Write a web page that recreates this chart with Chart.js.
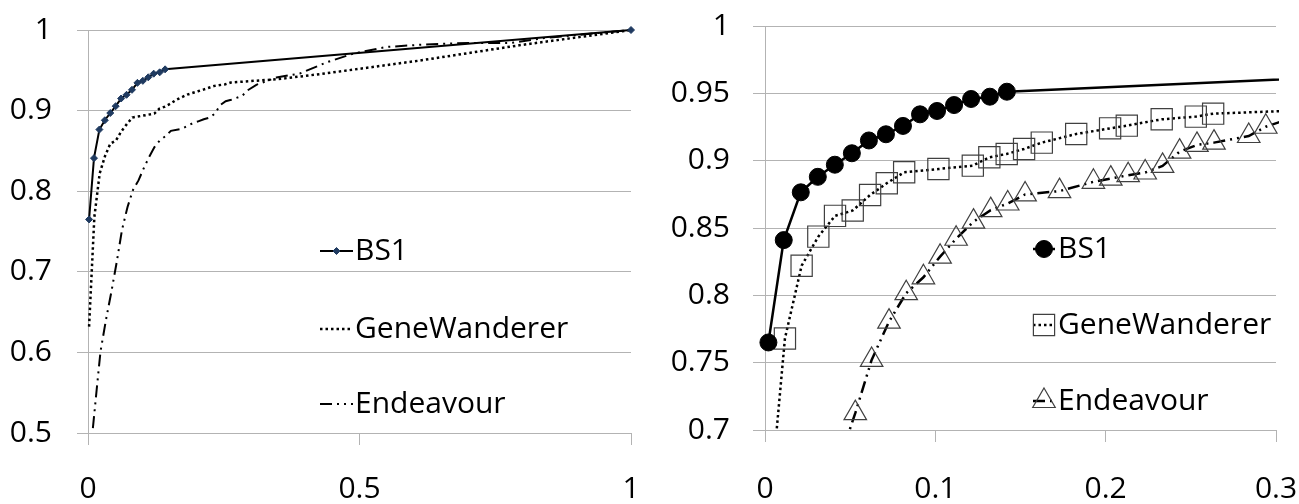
<!DOCTYPE html>
<html>
<head>
<meta charset="utf-8">
<script src="https://cdn.jsdelivr.net/npm/chart.js@4.4.1/dist/chart.umd.min.js"></script>
<style>
  html, body { margin: 0; padding: 0; background: #fff; }
  #wrap { position: relative; width: 1299px; height: 504px; }
  .panel { position: absolute; top: 0; height: 504px; }
  #left { left: 0; width: 650px; }
  #right { left: 650px; width: 649px; }
</style>
</head>
<body>
<div id="wrap">
  <div class="panel" id="left"><canvas id="fullChart" width="650" height="504"></canvas></div>
  <div class="panel" id="right"><canvas id="zoomChart" width="649" height="504"></canvas></div>
</div>
<script>
// series (x = fraction, y = value)
const bs1X = [0.002, 0.011, 0.021, 0.031, 0.041, 0.051, 0.061, 0.071, 0.081, 0.091, 0.101, 0.111, 0.121, 0.132, 0.142, 1];
const bs1Y = [0.765, 0.841, 0.8765, 0.888, 0.897, 0.9055, 0.915, 0.9196, 0.9258, 0.9344, 0.9369, 0.9413, 0.9458, 0.9475, 0.9512, 1];

const geneX = [0.002, 0.0117, 0.0215, 0.0313, 0.0411, 0.0515, 0.0617, 0.0715, 0.0817, 0.1018, 0.122, 0.1317, 0.1419,
  0.1521, 0.1625, 0.1827, 0.2026, 0.2124, 0.2329, 0.2529, 0.2631, 0.35, 0.436, 0.61, 0.794, 1];
const geneY = [0.632, 0.768, 0.822, 0.8436, 0.859, 0.863, 0.8745, 0.8832, 0.8914, 0.8938, 0.8963, 0.9025, 0.905,
  0.9087, 0.9134, 0.9198, 0.924, 0.926, 0.9307, 0.9327, 0.9349, 0.939, 0.946, 0.962, 0.981, 1];

const endeavX = [0.009, 0.016, 0.023, 0.033, 0.043, 0.053, 0.0626, 0.0728, 0.0829, 0.093, 0.1028, 0.1122, 0.1224,
  0.1325, 0.1425, 0.1527, 0.1729, 0.1928, 0.203, 0.2132, 0.2232, 0.2334, 0.2434, 0.2536, 0.2636, 0.284, 0.294,
  0.31, 0.347, 0.39, 0.44, 0.49, 0.55, 0.62, 0.70, 0.78, 0.84, 1];
const endeavY = [0.506, 0.554, 0.601, 0.64, 0.675, 0.7125, 0.752, 0.7805, 0.8016, 0.8134, 0.8287, 0.842, 0.8547,
  0.8633, 0.8682, 0.8749, 0.8774, 0.8843, 0.8867, 0.8892, 0.8912, 0.8961, 0.9067, 0.9117, 0.9134, 0.9183, 0.9252,
  0.932, 0.941, 0.946, 0.96, 0.971, 0.979, 0.982, 0.984, 0.984, 0.99, 1];

const seriesNames = ['BS1', 'GeneWanderer', 'Endeavour'];

const FONT = '"Open Sans", Lato, sans-serif';
const TEXT_SIZE = 30;
const GRID = '#b3b3b3';
const DOTS = [2.5, 3];
const DASH_DOT_DOT = [12, 5, 2, 5, 2, 5];

Chart.defaults.font.family = FONT;
Chart.defaults.color = '#000';

const toPts = (xs, ys) => xs.map((x, i) => ({ x, y: ys[i] }));
const fmt = v => String(+(+v).toFixed(2));

// legend drawn inside the plot, like the original
const insideLegend = {
  id: 'insideLegend',
  afterDatasetsDraw(chart, args, opts) {
    const ctx = chart.ctx;
    ctx.save();
    chart.data.datasets.forEach((ds, i) => {
      const y = opts.rows[i];
      const [x0, x1] = opts.line;
      ctx.strokeStyle = ds.borderColor;
      ctx.lineWidth = ds.borderWidth;
      ctx.setLineDash(ds.borderDash || []);
      ctx.beginPath();
      ctx.moveTo(x0, y);
      ctx.lineTo(x1, y);
      ctx.stroke();
      ctx.setLineDash([]);
      if (ds.pointRadius > 0) {
        ctx.fillStyle = ds.pointBackgroundColor;
        ctx.strokeStyle = ds.pointBorderColor;
        ctx.lineWidth = ds.pointBorderWidth;
        Chart.helpers.drawPoint(ctx, {
          pointStyle: ds.pointStyle, radius: ds.pointRadius, rotation: 0, borderWidth: ds.pointBorderWidth
        }, (x0 + x1) / 2, y);
      }
      ctx.fillStyle = '#000';
      ctx.font = TEXT_SIZE + 'px ' + FONT;
      ctx.textBaseline = 'middle';
      ctx.textAlign = 'left';
      ctx.fillText(ds.label, opts.textX, y);
    });
    ctx.restore();
  }
};

// fixed axis boxes so the plot area lands where the original has it
function xAxis(max, step, height, pad) {
  return {
    type: 'linear', min: 0, max,
    ticks: { stepSize: step, callback: fmt, padding: pad, maxRotation: 0, font: { size: TEXT_SIZE } },
    grid: { drawOnChartArea: false, color: GRID, tickLength: 12 },
    border: { color: GRID },
    afterFit: s => { s.height = height; s.paddingLeft = 0; s.paddingRight = 0; }
  };
}
function yAxis(min, max, step, width, tickLen, pad) {
  return {
    type: 'linear', min, max,
    ticks: { stepSize: step, callback: fmt, padding: pad, font: { size: TEXT_SIZE } },
    grid: { color: GRID, tickLength: tickLen },
    border: { color: GRID },
    afterFit: s => { s.width = width; s.paddingTop = 0; s.paddingBottom = 0; }
  };
}

// full range panel
new Chart(document.getElementById('fullChart'), {
  type: 'line',
  data: {
    datasets: [
      { label: seriesNames[0], data: toPts(bs1X, bs1Y), borderColor: '#000', borderWidth: 2,
        pointStyle: 'rectRot', pointRadius: 3.5, pointBackgroundColor: '#1f3a60', pointBorderColor: '#1f3a60', pointBorderWidth: 1 },
      { label: seriesNames[1], data: toPts(geneX, geneY), borderColor: '#000', borderWidth: 2.5, borderDash: DOTS, pointRadius: 0 },
      { label: seriesNames[2], data: toPts(endeavX, endeavY), borderColor: '#000', borderWidth: 2, borderDash: DASH_DOT_DOT, pointRadius: 0 }
    ]
  },
  options: {
    responsive: false, animation: false,
    layout: { padding: { top: 30, right: 19, bottom: 0, left: 0 } },
    elements: { line: { tension: 0, fill: false } },
    datasets: { line: { clip: { left: 6, top: 6, right: 6, bottom: 0 } } },
    plugins: {
      legend: { display: false }, tooltip: { enabled: false },
      insideLegend: { rows: [251, 329, 404], line: [320, 353], textX: 355 }
    },
    scales: {
      x: xAxis(1, 0.5, 71, 26),
      y: yAxis(0.5, 1, 0.1, 88, 11, 25)
    }
  },
  plugins: [insideLegend]
});

// zoomed panel
new Chart(document.getElementById('zoomChart'), {
  type: 'line',
  data: {
    datasets: [
      { label: seriesNames[0], data: toPts(bs1X, bs1Y), borderColor: '#000', borderWidth: 2.5,
        pointStyle: 'circle', pointRadius: 8.5, pointBackgroundColor: '#000', pointBorderColor: '#000', pointBorderWidth: 1 },
      { label: seriesNames[1], data: toPts(geneX, geneY), borderColor: '#000', borderWidth: 2.5, borderDash: DOTS,
        pointStyle: 'rect', pointRadius: 15, pointBackgroundColor: 'rgba(0,0,0,0)', pointBorderColor: '#404040', pointBorderWidth: 1.2 },
      { label: seriesNames[2], data: toPts(endeavX, endeavY), borderColor: '#000', borderWidth: 2.5, borderDash: DASH_DOT_DOT,
        pointStyle: 'triangle', pointRadius: 13, pointBackgroundColor: 'rgba(0,0,0,0)', pointBorderColor: '#404040', pointBorderWidth: 1.2 }
    ]
  },
  options: {
    responsive: false, animation: false,
    layout: { padding: { top: 26, right: 23, bottom: 0, left: 0 } },
    elements: { line: { tension: 0, fill: false } },
    datasets: { line: { clip: { left: 15, top: 0, right: 3, bottom: 0 } } },
    plugins: {
      legend: { display: false }, tooltip: { enabled: false },
      insideLegend: { rows: [249, 325, 401], line: [383, 405], textX: 408 }
    },
    scales: {
      x: xAxis(0.3, 0.1, 74, 29),
      y: yAxis(0.7, 1, 0.05, 115, 12, 23)
    }
  },
  plugins: [insideLegend]
});
</script>
</body>
</html>
